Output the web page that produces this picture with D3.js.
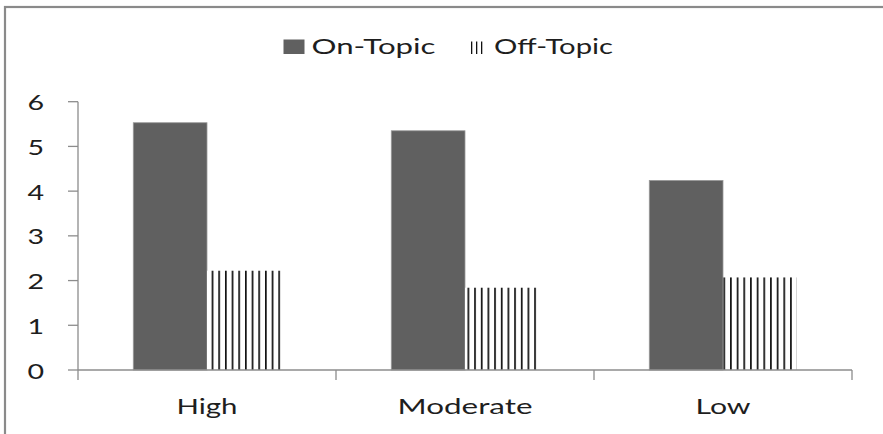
<!DOCTYPE html>
<html>
<head>
<meta charset="utf-8">
<script src="https://cdn.jsdelivr.net/npm/d3@7/dist/d3.min.js"></script>
<style>
  html, body { margin: 0; padding: 0; background: #fff; }
  svg { display: block; }
  text { font-family: Lato, "Open Sans", sans-serif; fill: #1e1e1e; }
</style>
</head>
<body>
<svg id="chart" width="883" height="434"></svg>
<script>
// Mean ratings by engagement level
const categories = ["High", "Moderate", "Low"];
const series = ["On-Topic", "Off-Topic"];
const onTopic = [5.53, 5.35, 4.24];
const offTopic = [2.22, 1.84, 2.07];
const yTicks = [0, 1, 2, 3, 4, 5, 6];

// widths the labels are set to (horizontally stretched type)
const labelWidths = { "High": 61, "Moderate": 135, "Low": 55 };
const legendWidths = { "On-Topic": 124, "Off-Topic": 119 };

const svg = d3.select("#chart");
const W = 883, H = 434;
const plot = { left: 78, right: 852, top: 101.7, bottom: 370 };

svg.append("rect").attr("width", W).attr("height", H).attr("fill", "#fff");

// chart-area frame (runs off the right and bottom edges)
svg.append("rect")
  .attr("x", 5).attr("y", 7).attr("width", W + 20).attr("height", H + 20)
  .attr("fill", "none").attr("stroke", "#8a8a8a").attr("stroke-width", 2.2);

const x0 = d3.scaleBand().domain(categories).range([plot.left, plot.right]).paddingInner(0).paddingOuter(0);
const x1 = d3.scaleBand().domain(series).range([0, x0.bandwidth()]).paddingInner(0).paddingOuter(0.75);
const y = d3.scaleLinear().domain([0, 6]).range([plot.bottom, plot.top]);

const defs = svg.append("defs");
const period = 6.67;

const rows = categories.map((c, i) => ({ cat: c, i, values: [onTopic[i], offTopic[i]] }));

// vertical-stripe fill, one per bar so the stripes start at the bar edge
rows.forEach(r => {
  const bx = x0(r.cat) + x1("Off-Topic");
  const p = defs.append("pattern")
    .attr("id", "stripe" + r.i)
    .attr("patternUnits", "userSpaceOnUse")
    .attr("x", bx).attr("y", 0)
    .attr("width", period).attr("height", 10);
  p.append("rect").attr("width", period).attr("height", 10).attr("fill", "#fff");
  p.append("rect").attr("x", 0).attr("width", 1.7).attr("height", 10).attr("fill", "#111");
});

const legendPattern = defs.append("pattern")
  .attr("id", "stripeLegend").attr("patternUnits", "userSpaceOnUse")
  .attr("x", 471).attr("y", 0).attr("width", 5).attr("height", 10);
legendPattern.append("rect").attr("width", 5).attr("height", 10).attr("fill", "#fff");
legendPattern.append("rect").attr("width", 1.3).attr("height", 10).attr("fill", "#111");

// bars
const groups = svg.append("g").selectAll("g").data(rows).join("g")
  .attr("transform", d => `translate(${x0(d.cat)},0)`);

groups.append("rect")
  .attr("x", x1("On-Topic"))
  .attr("y", d => y(d.values[0]))
  .attr("width", x1.bandwidth())
  .attr("height", d => y(0) - y(d.values[0]))
  .attr("fill", "#606060")
  .attr("stroke", "#9a9a9a").attr("stroke-width", 0.8);

groups.append("rect")
  .attr("x", x1("Off-Topic"))
  .attr("y", d => y(d.values[1]))
  .attr("width", x1.bandwidth())
  .attr("height", d => y(0) - y(d.values[1]))
  .attr("fill", d => `url(#stripe${d.i})`);

// y axis
const axisColor = "#8c8c8c";
const yAxis = svg.append("g");
yAxis.append("line")
  .attr("x1", plot.left).attr("x2", plot.left)
  .attr("y1", y(6)).attr("y2", y(0))
  .attr("stroke", axisColor).attr("stroke-width", 1.3);
yAxis.selectAll("line.tick").data(yTicks).join("line").attr("class", "tick")
  .attr("x1", plot.left - 10).attr("x2", plot.left)
  .attr("y1", d => y(d)).attr("y2", d => y(d))
  .attr("stroke", axisColor).attr("stroke-width", 1.3);
yAxis.selectAll("text").data(yTicks).join("text")
  .attr("transform", d => `translate(44,${y(d) + 8.5}) scale(1.3,1)`)
  .attr("text-anchor", "end")
  .attr("font-size", 22)
  .text(d => d);

// x axis
const xAxis = svg.append("g");
xAxis.append("line")
  .attr("x1", plot.left).attr("x2", plot.right)
  .attr("y1", y(0)).attr("y2", y(0))
  .attr("stroke", axisColor).attr("stroke-width", 1.3);
const xTickPos = categories.map(c => x0(c)).concat([plot.right]);
xAxis.selectAll("line.tick").data(xTickPos).join("line").attr("class", "tick")
  .attr("x1", d => d).attr("x2", d => d)
  .attr("y1", y(0)).attr("y2", y(0) + 10)
  .attr("stroke", axisColor).attr("stroke-width", 1.3);
xAxis.selectAll("text").data(categories).join("text")
  .attr("x", d => x0(d) + x0.bandwidth() / 2)
  .attr("y", 413.5)
  .attr("text-anchor", "middle")
  .attr("font-size", 22)
  .attr("textLength", d => labelWidths[d])
  .attr("lengthAdjust", "spacingAndGlyphs")
  .text(d => d);

// legend
const legend = svg.append("g");
legend.append("rect")
  .attr("x", 283.5).attr("y", 39.5).attr("width", 21).attr("height", 14.5)
  .attr("fill", "#606060");
legend.append("text")
  .attr("x", 311.5).attr("y", 54.3)
  .attr("font-size", 22)
  .attr("textLength", legendWidths["On-Topic"])
  .attr("lengthAdjust", "spacingAndGlyphs")
  .text(series[0]);
legend.append("rect")
  .attr("x", 471).attr("y", 41.5).attr("width", 12).attr("height", 12.5)
  .attr("fill", "url(#stripeLegend)");
legend.append("text")
  .attr("x", 494).attr("y", 54.3)
  .attr("font-size", 22)
  .attr("textLength", legendWidths["Off-Topic"])
  .attr("lengthAdjust", "spacingAndGlyphs")
  .text(series[1]);
</script>
</body>
</html>
